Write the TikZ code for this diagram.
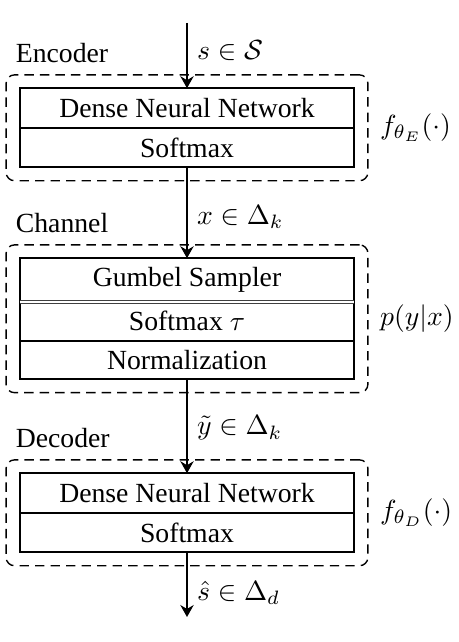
\documentclass[tikz,border=0pt]{standalone}
\usepackage[no-math]{fontspec}
\setmainfont{Liberation Serif}
\usetikzlibrary{positioning,fit,arrows.meta}

\begin{document}
\begin{tikzpicture}[x=0.361pt, y=-0.361pt,
  layer/.style={draw, rectangle, line width=0.7pt, outer sep=0pt, minimum width=120.6pt, minimum height=14.3pt},
  group/.style={draw, rectangle, rounded corners=3pt, line width=0.5pt, dash pattern=on 3.4pt off 2.2pt, outer sep=0pt, inner xsep=5pt, inner ysep=4.8pt},
  flow/.style={-{Stealth[length=4.3pt, width=4.8pt]}, line width=0.7pt}]

\useasboundingbox (0,0) rectangle (458,642);

% encoder
\node (encdnn) [layer] at (187,108) {Dense Neural Network};
\node (encsm) [layer, below=0pt of encdnn] {Softmax};
\node (encoder) [group, fit=(encdnn)(encsm)] {};
\node (enctitle) [above right=1pt and 0pt of encoder.north west] {Encoder};
\node (encmap) [right=0.9pt of encoder] {$f_{\theta_E}(\cdot)$};

% channel
\node (gumbel) [layer, minimum height=15.2pt] at (187,280) {Gumbel Sampler};
\node (chansm) [layer, minimum height=14pt, below=0pt of gumbel] {Softmax $\tau$};
\node (norm) [layer, minimum height=14pt, below=0pt of chansm] {Normalization};
\draw[line width=0.45pt, double=white, double distance=0.55pt, black!75] (gumbel.south west) -- (gumbel.south east);
\node (channel) [group, fit=(gumbel)(norm)] {};
\node (chantitle) [above right=1pt and 0pt of channel.north west] {Channel};
\node (chanmap) [right=0.9pt of channel] {$p(y|x)$};

% decoder
\node (decdnn) [layer] at (187,493) {Dense Neural Network};
\node (decsm) [layer, below=0pt of decdnn] {Softmax};
\node (decoder) [group, fit=(decdnn)(decsm)] {};
\node (dectitle) [above right=1pt and 0pt of decoder.north west] {Decoder};
\node (decmap) [right=0.9pt of decoder] {$f_{\theta_D}(\cdot)$};

% signal path
\coordinate (src) at (187,23);
\coordinate (sink) at (187,617);
\draw[flow] (src) -- node[right, pos=0.42] {$s\in\mathcal{S}$} (encdnn);
\draw[flow] (encsm) -- node[right, pos=0.55] {$x\in\Delta_k$} (gumbel);
\draw[flow] (norm) -- node[right, pos=0.52] {$\tilde{y}\in\Delta_k$} (decdnn);
\draw[flow] (decsm) -- node[right, pos=0.63] {$\hat{s}\in\Delta_d$} (sink);

\end{tikzpicture}
\end{document}
